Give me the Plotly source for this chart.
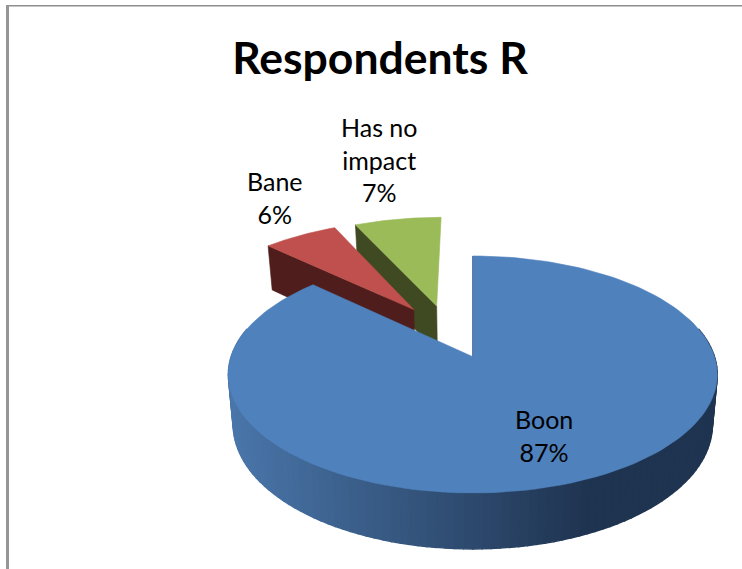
import numpy as np
import plotly.graph_objects as go

categories = ["Boon", "Bane", "Has no impact"]
shares = [87, 6, 7]
title_text = "Respondents R"

top_colors = ["#4F81BD", "#C0504D", "#9BBB59"]
cut_colors = ["#1F3450", "#4F1E1C", "#3F4A23"]
slice_offsets = [(0.0, 0.0), (-0.26, 0.433), (-0.16, 0.4686)]
label_xy = [(544, 435), (275, 197.5), (379, 159.5)]

# projection of the tilted pie
CX, CY, R, A, K = 472.8, 356.7, 241.7, 115.8, 0.15
DROP, A_LOW, SHRINK = 49.4, 121.4, 0.98


def project(theta, radius, off, low=False):
    u = off[0] + radius * np.sin(theta)
    v = off[1] + radius * np.cos(theta)
    d = 1 + K * v
    if low:
        return CX + R * SHRINK * u / d, CY + DROP - A_LOW * v / d
    return CX + R * u / d, CY - A * v / d


fig = go.Figure()


def poly(xs, ys, color, width=0.6):
    fig.add_trace(go.Scatter(
        x=list(xs) + [xs[0]], y=list(ys) + [ys[0]], mode="lines", fill="toself",
        fillcolor=color, line=dict(color=color, width=width),
        hoverinfo="skip", showlegend=False))


def cut_face(theta, off, color):
    x1, y1 = project(theta, 0, off)
    x2, y2 = project(theta, 1, off)
    x3, y3 = project(theta, 1, off, True)
    x4, y4 = project(theta, 0, off, True)
    poly([x1, x2, x3, x4], [y1, y2, y3, y4], color)


def top_face(t0, t1, off, color):
    ts = np.linspace(t0, t1, 160)
    ax, ay = project(0.0, 0, off)
    ex, ey = project(ts, 1, off)
    poly([ax] + list(ex), [ay] + list(ey), color)


def wall_color(x):
    f = min(max((x - 234) / (585 - 234), 0), 1)
    c0, c1 = (74, 118, 170), (31, 52, 80)
    return "rgb(%d,%d,%d)" % tuple(round(a + (b - a) * f) for a, b in zip(c0, c1))


fractions = np.cumsum([0] + shares) / sum(shares) * 2 * np.pi
angles = [(fractions[i], fractions[i + 1]) for i in range(len(shares))]

# back to front: green, red, blue
for i in (2, 1):
    t0, t1 = angles[i]
    cut_face(t0, slice_offsets[i], cut_colors[i])
    top_face(t0, t1, slice_offsets[i], top_colors[i])

t0, t1 = angles[0]
edges = np.linspace(np.pi * 0.42, np.pi * 1.58, 111)
for a, b in zip(edges[:-1], edges[1:]):
    xa, ya = project(a, 1, slice_offsets[0])
    xb, yb = project(b, 1, slice_offsets[0])
    xc, yc = project(b, 1, slice_offsets[0], True)
    xd, yd = project(a, 1, slice_offsets[0], True)
    poly([xa, xb, xc, xd], [ya, yb, yc, yd], wall_color((xc + xd) / 2), width=1.4)
cut_face(t0, slice_offsets[0], cut_colors[0])
top_face(t0, t1, slice_offsets[0], top_colors[0])

wrapped = ["Boon", "Bane", "Has no<br>impact"]
for name, share, (lx, ly) in zip(wrapped, shares, label_xy):
    fig.add_annotation(x=lx, y=ly, xref="x", yref="y", text=f"{name}<br>{share}%",
                       showarrow=False, align="center",
                       font=dict(family="Lato", size=25, color="#000000"))

fig.update_layout(
    width=742, height=569, autosize=False,
    margin=dict(l=0, r=0, t=0, b=0),
    paper_bgcolor="white", plot_bgcolor="white", showlegend=False,
    title=dict(text=f"<b>{title_text}</b>", x=380 / 742, xanchor="center",
               y=1 - 58 / 569, yanchor="middle",
               font=dict(family="Lato", size=44.5, color="#000000")),
    xaxis=dict(range=[0, 742], visible=False, fixedrange=True),
    yaxis=dict(range=[569, 0], visible=False, fixedrange=True),
    shapes=[
        dict(type="rect", xref="x", yref="y", x0=6, x1=742, y0=5, y1=6.5,
             fillcolor="#8E8E8E", line=dict(width=0), layer="below"),
        dict(type="rect", xref="x", yref="y", x0=6, x1=9, y0=5, y1=569,
             fillcolor="#969696", line=dict(width=0), layer="below"),
    ],
)
fig.write_html("out.html", config=dict(displayModeBar=False),
               post_script="document.body.style.margin='0';document.documentElement.style.overflow='hidden';")
